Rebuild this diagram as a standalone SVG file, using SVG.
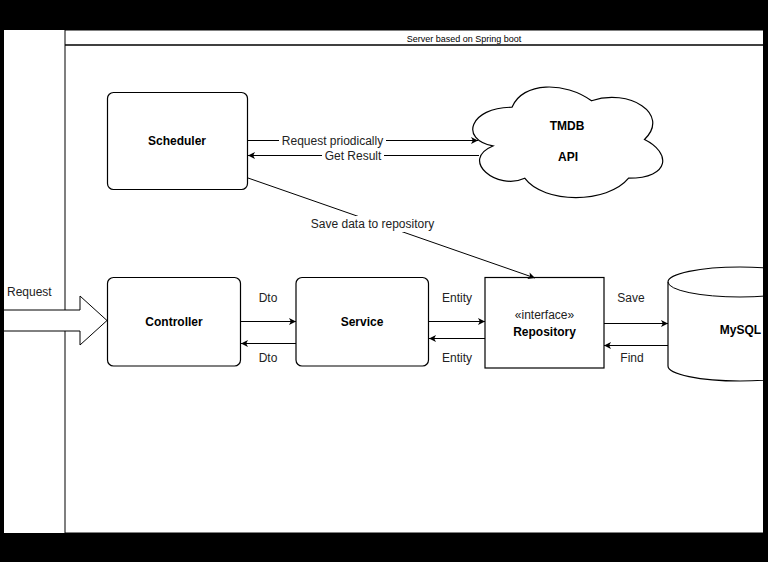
<svg xmlns="http://www.w3.org/2000/svg" width="768" height="562" viewBox="0 0 768 562">
<style>
.box{fill:#fff;stroke:#000;stroke-width:1.2}
.ln{fill:none;stroke:#000;stroke-width:1}
.b{font-family:"Liberation Sans",Arial,sans-serif;font-size:12px;font-weight:bold;fill:#000;text-anchor:middle}
.t{font-family:"Liberation Sans",Arial,sans-serif;font-size:12px;fill:#222;text-anchor:middle}
.bg{fill:#fff}
</style>
<defs>
<marker id="arr" markerUnits="userSpaceOnUse" markerWidth="10" markerHeight="10" refX="7" refY="3.5" orient="auto">
<path d="M0,0 L7,3.5 L0,7 L1.8,3.5 Z" fill="#000"/>
</marker>
<clipPath id="page"><rect x="4" y="30" width="759" height="503"/></clipPath>
</defs>
<rect x="0" y="0" width="768" height="562" fill="#000"/>
<rect x="4" y="30" width="759" height="503" fill="#fff"/>
<g clip-path="url(#page)">
<g id="pool">
<rect x="65" y="30" width="780" height="503" fill="none" stroke="#000" stroke-width="1"/>
<line x1="65" y1="45" x2="845" y2="45" stroke="#000" stroke-width="1.5"/>
<text x="464" y="42" font-family="Liberation Sans,Arial,sans-serif" font-size="9" text-anchor="middle" fill="#000">Server based on Spring boot</text>
</g>
<g id="request">
<polygon points="-10,310 80,310 80,296 107,320.5 80,345 80,331 -10,331" fill="#fff" stroke="#000" stroke-width="1"/>
<text x="7" y="296" font-family="Liberation Sans,Arial,sans-serif" font-size="12" fill="#222">Request</text>
</g>
<g id="scheduler">
<rect class="box" x="107.5" y="92.5" width="140" height="97" rx="6"/>
<text class="b" x="177" y="145">Scheduler</text>
</g>
<g id="tmdb">
<path class="box" d="M512,107.25 C469.6,107.25 459,139.5 492.9,145.95 C459,160.1 497.2,191.1 524.7,178.2 C543.8,204 607.4,204 628.6,178.2 C671,178.2 671,152.4 644.5,139.5 C671,113.7 628.6,87.9 591.5,100.8 C565,81.45 522.6,81.45 512,107.25 Z"/>
<text class="b" x="567" y="130">TMDB</text>
<text class="b" x="568" y="161">API</text>
</g>
<g id="controller">
<rect class="box" x="107.5" y="277.5" width="133" height="88.5" rx="6"/>
<text class="b" x="174" y="326">Controller</text>
</g>
<g id="service">
<rect class="box" x="296" y="277.5" width="132.5" height="88.5" rx="6"/>
<text class="b" x="362" y="326">Service</text>
</g>
<g id="repository">
<rect class="box" x="485" y="277.5" width="119" height="90.5"/>
<text class="t" x="544.5" y="319">«interface»</text>
<text class="b" x="544.5" y="336">Repository</text>
</g>
<g id="mysql">
<path class="box" d="M668,282 L668,366 A72,15 0 0 0 812,366 L812,282 A72,15 0 0 0 668,282 Z"/>
<path class="ln" d="M668,282 A72,15 0 0 0 812,282" stroke-width="1.2"/>
<text class="b" x="740.5" y="334">MySQL</text>
</g>
<g id="connectors">
<line class="ln" x1="248" y1="140.5" x2="478" y2="140.5" marker-end="url(#arr)"/>
<rect class="bg" x="279" y="133" width="107" height="15"/>
<text class="t" x="332.5" y="145">Request priodically</text>
<line class="ln" x1="479" y1="155.5" x2="248" y2="155.5" marker-end="url(#arr)"/>
<rect class="bg" x="322" y="148.5" width="62" height="14"/>
<text class="t" x="353" y="160">Get Result</text>
<line class="ln" x1="248" y1="178" x2="535" y2="278" marker-end="url(#arr)"/>
<rect class="bg" x="307" y="216" width="131" height="16"/>
<text class="t" x="372.5" y="228">Save data to repository</text>
<line class="ln" x1="241" y1="321.5" x2="296" y2="321.5" marker-end="url(#arr)"/>
<text class="t" x="268" y="302">Dto</text>
<line class="ln" x1="296" y1="343.5" x2="241" y2="343.5" marker-end="url(#arr)"/>
<text class="t" x="268" y="362">Dto</text>
<line class="ln" x1="429" y1="321.5" x2="485" y2="321.5" marker-end="url(#arr)"/>
<text class="t" x="457" y="302">Entity</text>
<line class="ln" x1="485" y1="338.5" x2="429" y2="338.5" marker-end="url(#arr)"/>
<text class="t" x="457" y="362">Entity</text>
<line class="ln" x1="604" y1="323.5" x2="668" y2="323.5" marker-end="url(#arr)"/>
<text class="t" x="631" y="302">Save</text>
<line class="ln" x1="668" y1="345.5" x2="604" y2="345.5" marker-end="url(#arr)"/>
<text class="t" x="632" y="362">Find</text>
</g>
</g>
</svg>
